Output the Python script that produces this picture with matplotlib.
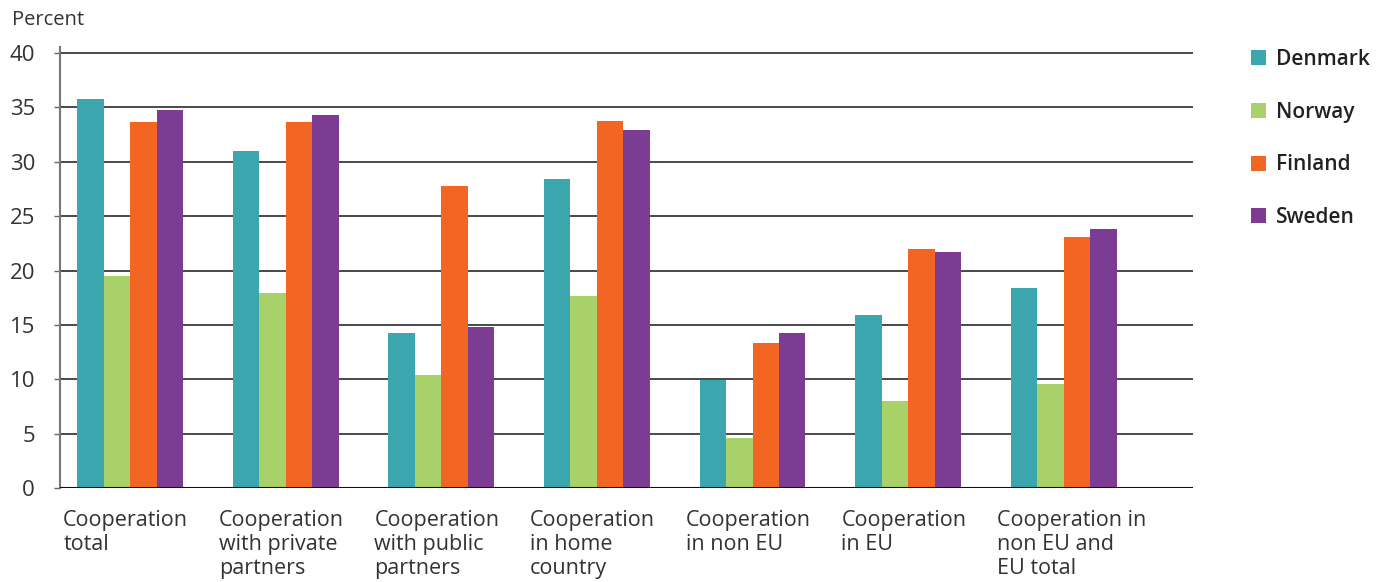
import matplotlib.pyplot as plt
import matplotlib.transforms as mtransforms
import numpy as np

plt.rcParams['font.family'] = ['Open Sans', 'DejaVu Sans']

categories = [
    "Cooperation\ntotal",
    "Cooperation\nwith private\npartners",
    "Cooperation\nwith public\npartners",
    "Cooperation\nin home\ncountry",
    "Cooperation\nin non EU",
    "Cooperation\nin EU",
    "Cooperation in\nnon EU and\nEU total",
]
countries = ["Denmark", "Norway", "Finland", "Sweden"]
denmark = [35.8, 31.0, 14.3, 28.4, 9.9, 15.9, 18.4]
norway = [19.5, 17.9, 10.4, 17.7, 4.6, 8.0, 9.6]
finland = [33.7, 33.7, 27.8, 33.8, 13.3, 22.0, 23.1]
sweden = [34.8, 34.3, 14.8, 32.9, 14.3, 21.7, 23.8]
colors = ["#3BA6AD", "#A9D16A", "#F26522", "#7D3C93"]
yticks = [0, 5, 10, 15, 20, 25, 30, 35, 40]

fig = plt.figure(figsize=(13.83, 5.82), dpi=100)
ax = fig.add_axes([0.0434, 0.1615, 0.8192, 0.7575])

x = np.arange(len(categories))
w = 0.17
for k, (vals, name) in enumerate(zip([denmark, norway, finland, sweden], countries)):
    ax.bar(x + (k - 1.5) * w, vals, width=w, color=colors[k], label=name, zorder=3)

# horizontal grid
for t in yticks[1:]:
    ax.axhline(t, color="#3a3a3a", lw=1.3, zorder=1)
ax.axhline(0, color="#111111", lw=1.5, zorder=4)

ax.set_xlim(-0.45, 6.83)
ax.set_ylim(0, 40.55)
ax.set_yticks(yticks)
ax.set_yticklabels([str(t) for t in yticks], fontsize=16, color="#333333")
ax.tick_params(axis="y", length=4, width=1, color="#666666", pad=14)
ax.set_xticks([])
for s in ["top", "right", "bottom"]:
    ax.spines[s].set_visible(False)
ax.spines["left"].set_color("#777777")
ax.spines["left"].set_linewidth(1.5)

trans = mtransforms.blended_transform_factory(ax.transData, ax.transAxes)
for i, lab in enumerate(categories):
    ax.text(i - 0.43, -0.05, lab, transform=trans, ha="left", va="top",
            fontsize=15.5, color="#333333", linespacing=1.2)

fig.text(0.009, 0.966, "Percent", fontsize=14.5, color="#333333", va="center")

leg = ax.legend(loc="upper left", bbox_to_anchor=(1.035, 1.038), frameon=False,
                handlelength=0.72, handleheight=0.72, handletextpad=0.45,
                labelspacing=1.52, prop={"size": 15, "weight": "semibold"})
for t in leg.get_texts():
    t.set_color("#222222")

fig.savefig("out.png", dpi=100)
